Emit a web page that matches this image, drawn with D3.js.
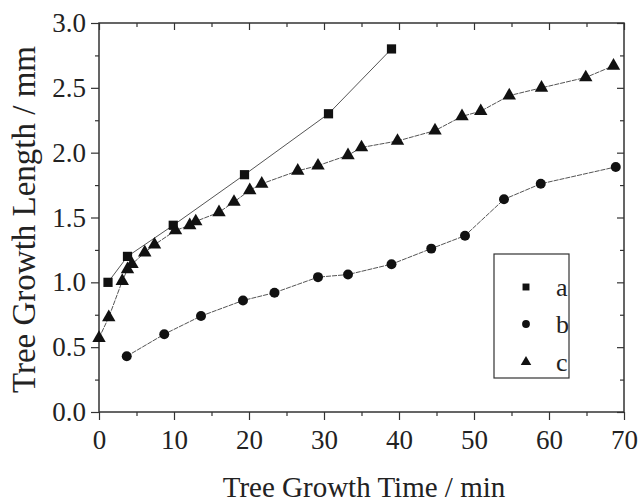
<!DOCTYPE html>
<html>
<head>
<meta charset="utf-8">
<script src="https://cdn.jsdelivr.net/npm/d3@7"></script>
<style>
  body { margin: 0; background: #fff; }
  text { font-family: "Liberation Serif", "DejaVu Serif", serif; fill: #222; }
</style>
</head>
<body>
<script>
// series values
var timeA = [1.2, 3.8, 9.9, 19.4, 30.6, 39.0];
var lenA  = [1.00, 1.20, 1.44, 1.83, 2.30, 2.80];

var timeB = [3.7, 8.7, 13.6, 19.2, 23.4, 29.2, 33.2, 39.0, 44.3, 48.8, 54.0, 58.9, 68.9];
var lenB  = [0.43, 0.60, 0.74, 0.86, 0.92, 1.04, 1.06, 1.14, 1.26, 1.36, 1.64, 1.76, 1.89];

var timeC = [0, 1.3, 3.1, 3.8, 4.4, 6.1, 7.4, 10.2, 12.1, 12.9, 16.0, 18.0, 20.1, 21.7,
             26.5, 29.2, 33.2, 35.0, 39.8, 44.8, 48.4, 50.9, 54.7, 59.0, 64.9, 68.6];
var lenC  = [0.57, 0.73, 1.01, 1.10, 1.14, 1.23, 1.29, 1.40, 1.44, 1.47, 1.54, 1.62, 1.71, 1.76,
             1.86, 1.90, 1.98, 2.04, 2.09, 2.17, 2.28, 2.32, 2.44, 2.50, 2.58, 2.67];

var names = ["a", "b", "c"];
var xTicks = [0, 10, 20, 30, 40, 50, 60, 70];
var yTicks = [0, 0.5, 1.0, 1.5, 2.0, 2.5, 3.0];

var width = 640, height = 502;
var margin = {top: 23, right: 16, bottom: 90, left: 99};

var svg = d3.select("body").append("svg")
    .attr("width", width)
    .attr("height", height);

var x = d3.scaleLinear().domain([0, 70]).range([margin.left, width - margin.right]);
var y = d3.scaleLinear().domain([0, 3]).range([height - margin.bottom, margin.top]);

var minorX = d3.range(5, 70, 10);
var minorY = d3.range(0.25, 3, 0.5);

function styleAxis(g) {
  g.selectAll(".domain").remove();
  g.selectAll("line").attr("stroke", "#333").attr("stroke-width", 1.2);
  g.selectAll("text").style("font-size", "27px").attr("fill", "#222");
}

// bottom axis
svg.append("g")
    .attr("transform", `translate(0,${y(0)})`)
    .call(d3.axisBottom(x).tickValues(xTicks).tickFormat(d3.format("d")).tickSize(8).tickPadding(10))
    .call(styleAxis);
svg.append("g")
    .attr("transform", `translate(0,${y(0)})`)
    .call(d3.axisBottom(x).tickValues(minorX).tickFormat("").tickSize(4))
    .call(styleAxis);

// left axis
svg.append("g")
    .attr("transform", `translate(${x(0)},0)`)
    .call(d3.axisLeft(y).tickValues(yTicks).tickFormat(d3.format(".1f")).tickSize(8).tickPadding(5))
    .call(styleAxis);
svg.append("g")
    .attr("transform", `translate(${x(0)},0)`)
    .call(d3.axisLeft(y).tickValues(minorY).tickFormat("").tickSize(4))
    .call(styleAxis);

// top and right axes, ticks inward, no labels
svg.append("g")
    .attr("transform", `translate(0,${y(3)})`)
    .call(d3.axisTop(x).tickValues(xTicks).tickFormat("").tickSize(-7))
    .call(styleAxis);
svg.append("g")
    .attr("transform", `translate(0,${y(3)})`)
    .call(d3.axisTop(x).tickValues(minorX).tickFormat("").tickSize(-4))
    .call(styleAxis);
svg.append("g")
    .attr("transform", `translate(${x(70)},0)`)
    .call(d3.axisRight(y).tickValues(yTicks).tickFormat("").tickSize(-7))
    .call(styleAxis);
svg.append("g")
    .attr("transform", `translate(${x(70)},0)`)
    .call(d3.axisRight(y).tickValues(minorY).tickFormat("").tickSize(-4))
    .call(styleAxis);

// frame
svg.append("rect")
    .attr("x", x(0)).attr("y", y(3))
    .attr("width", x(70) - x(0)).attr("height", y(0) - y(3))
    .attr("fill", "none").attr("stroke", "#333").attr("stroke-width", 1.5);

// axis titles
svg.append("text")
    .attr("x", 364).attr("y", 497)
    .attr("text-anchor", "middle")
    .style("font-size", "29px")
    .text("Tree Growth Time / min");
svg.append("text")
    .attr("transform", `translate(35,${(y(0) + y(3)) / 2 + 2}) rotate(-90)`)
    .attr("text-anchor", "middle")
    .style("font-size", "33px")
    .text("Tree Growth Length / mm");

var series = [
  {name: "a", t: timeA, v: lenA, shape: d3.symbolSquare, size: 85, dash: null},
  {name: "b", t: timeB, v: lenB, shape: d3.symbolCircle, size: 78, dash: "5,1"},
  {name: "c", t: timeC, v: lenC, shape: d3.symbolTriangle, size: 78, dash: "5,1"}
];

var line = d3.line().x(d => x(d[0])).y(d => y(d[1]));

series.forEach(function(s) {
  var pts = s.t.map((t, i) => [t, s.v[i]]);
  svg.append("path")
      .datum(pts)
      .attr("d", line)
      .attr("fill", "none")
      .attr("stroke", "#555")
      .attr("stroke-width", 1)
      .attr("stroke-dasharray", s.dash);
  svg.selectAll(null)
      .data(pts)
      .enter()
      .append("path")
      .attr("transform", d => `translate(${x(d[0])},${y(d[1])})`)
      .attr("d", d3.symbol().type(s.shape).size(s.size))
      .attr("fill", "#111");
});

// legend
var legend = svg.append("g");
legend.append("rect")
    .attr("x", 494).attr("y", 254)
    .attr("width", 75).attr("height", 124)
    .attr("fill", "#fff").attr("stroke", "#333").attr("stroke-width", 1.2);

var legY = [287, 324, 362];
series.forEach(function(s, i) {
  legend.append("path")
      .attr("transform", `translate(526,${legY[i]})`)
      .attr("d", d3.symbol().type(s.shape).size(48))
      .attr("fill", "#111");
  legend.append("text")
      .attr("x", 556).attr("y", legY[i] + 9)
      .style("font-size", "26px")
      .text(names[i]);
});
</script>
</body>
</html>
